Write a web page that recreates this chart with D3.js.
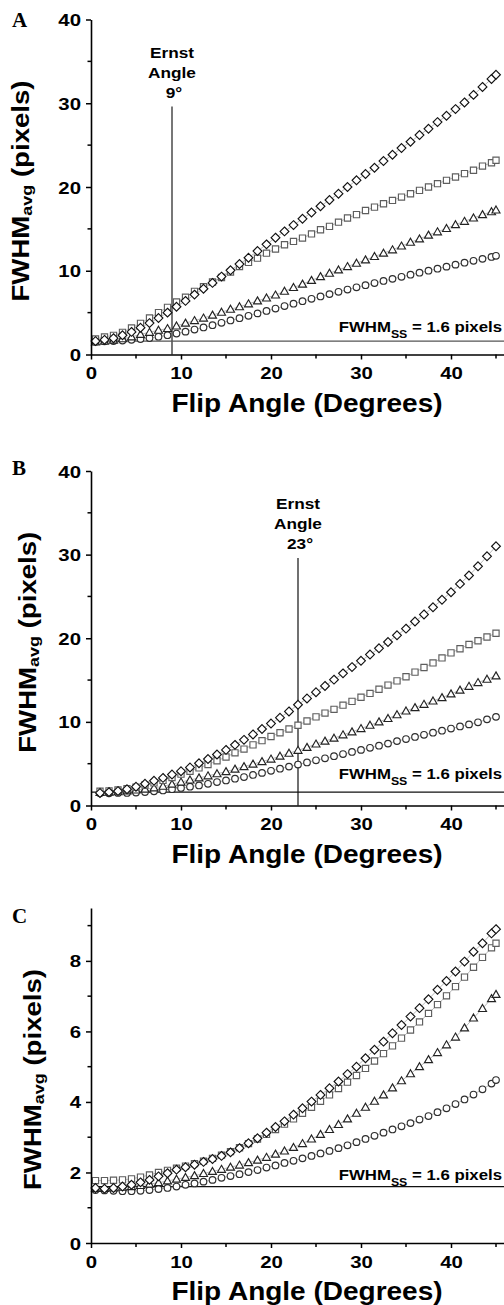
<!DOCTYPE html>
<html>
<head>
<meta charset="utf-8">
<script src="https://cdn.jsdelivr.net/npm/d3@7"></script>
<style>
  html, body { margin: 0; padding: 0; background: #fff; }
  svg { display: block; }
</style>
</head>
<body>
<svg id="fig" width="504" height="1305"></svg>
<script>
// Flip angles sampled in each panel (degrees)
const anglesHalf = [0.5, 1.5, 2.5, 3.5, 4.5, 5.5, 6.5, 7.5, 8.5, 9.5, 10.5, 11.5, 12.5, 13.5, 14.5,
  15.5, 16.5, 17.5, 18.5, 19.5, 20.5, 21.5, 22.5, 23.5, 24.5, 25.5, 26.5, 27.5, 28.5, 29.5,
  30.5, 31.5, 32.5, 33.5, 34.5, 35.5, 36.5, 37.5, 38.5, 39.5, 40.5, 41.5, 42.5, 43.5, 44.5, 45];
const anglesWhole = [1, 2, 3, 4, 5, 6, 7, 8, 9, 10, 11, 12, 13, 14, 15, 16, 17, 18, 19, 20,
  21, 22, 23, 24, 25, 26, 27, 28, 29, 30, 31, 32, 33, 34, 35, 36, 37, 38, 39, 40,
  41, 42, 43, 44, 45];

// Panel A: FWHM_avg (pixels)
const aDiamond = [1.6, 1.75, 1.95, 2.3, 2.7, 3.2, 3.75, 4.35, 5.0, 5.7, 6.4, 7.15, 7.85, 8.55, 9.3,
  10.05, 10.8, 11.55, 12.35, 13.15, 13.95, 14.7, 15.45, 16.2, 16.95, 17.7, 18.45, 19.2, 20.0, 20.8,
  21.55, 22.3, 23.1, 23.85, 24.65, 25.4, 26.2, 26.95, 27.75, 28.5, 29.3, 30.1, 31.0, 31.95, 32.9, 33.4];
const aSquare = [1.85, 2.09, 2.29, 2.65, 3.16, 3.72, 4.36, 5.0, 5.63, 6.27, 6.83, 7.54, 8.1, 8.66, 9.2,
  9.85, 10.5, 11.0, 11.5, 12.1, 12.6, 13.1, 13.5, 13.9, 14.4, 14.9, 15.3, 15.8, 16.3, 16.7,
  17.2, 17.6, 18.0, 18.4, 18.8, 19.2, 19.6, 20.0, 20.4, 20.8, 21.2, 21.6, 22.0, 22.5, 22.9, 23.2];
const aTriangle = [1.5, 1.6, 1.72, 1.88, 2.1, 2.4, 2.65, 2.9, 3.1, 3.4, 3.75, 4.05, 4.35, 4.7, 5.05,
  5.4, 5.7, 6.05, 6.4, 6.75, 7.1, 7.55, 8.0, 8.4, 8.85, 9.3, 9.7, 10.1, 10.5, 10.9,
  11.3, 11.7, 12.1, 12.5, 12.95, 13.4, 13.8, 14.25, 14.65, 15.05, 15.5, 15.9, 16.3, 16.7, 17.05, 17.25];
const aCircle = [1.53, 1.57, 1.61, 1.67, 1.75, 1.85, 1.97, 2.12, 2.3, 2.5, 2.73, 2.98, 3.23, 3.5, 3.78,
  4.06, 4.34, 4.62, 4.91, 5.2, 5.49, 5.78, 6.07, 6.36, 6.65, 6.93, 7.21, 7.49, 7.76, 8.02,
  8.28, 8.53, 8.78, 9.03, 9.28, 9.53, 9.77, 10.01, 10.25, 10.49, 10.73, 10.96, 11.19, 11.42, 11.65, 11.78];

// Panel B
const bDiamond = [1.5, 1.6, 1.72, 1.95, 2.25, 2.6, 2.95, 3.3, 3.7, 4.1, 4.55, 5.05, 5.55, 6.1, 6.65,
  7.25, 7.85, 8.5, 9.15, 9.8, 10.5, 11.25, 12.05, 12.8, 13.55, 14.3, 15.05, 15.8, 16.55, 17.3,
  18.05, 18.8, 19.55, 20.35, 21.15, 22.0, 22.85, 23.7, 24.6, 25.5, 26.5, 27.5, 28.6, 29.8, 31.0];
const bSquare = [1.7, 1.75, 1.85, 2.0, 2.2, 2.45, 2.7, 3.0, 3.35, 3.75, 4.1, 4.5, 4.9, 5.35, 5.8,
  6.3, 6.75, 7.25, 7.75, 8.25, 8.7, 9.15, 9.6, 10.1, 10.6, 11.05, 11.5, 12.0, 12.45, 12.95,
  13.4, 13.9, 14.4, 14.9, 15.4, 15.95, 16.5, 17.05, 17.65, 18.25, 18.75, 19.25, 19.7, 20.15, 20.6];
const bTriangle = [1.55, 1.6, 1.65, 1.75, 1.85, 1.95, 2.1, 2.3, 2.55, 2.8, 3.05, 3.3, 3.55, 3.8, 4.05,
  4.35, 4.65, 4.95, 5.25, 5.55, 5.9, 6.25, 6.6, 6.95, 7.35, 7.7, 8.05, 8.45, 8.8, 9.2,
  9.6, 10.0, 10.4, 10.85, 11.3, 11.7, 12.1, 12.5, 12.9, 13.35, 13.8, 14.25, 14.7, 15.1, 15.5];
const bCircle = [1.45, 1.45, 1.5, 1.5, 1.55, 1.6, 1.7, 1.8, 1.95, 2.1, 2.25, 2.4, 2.6, 2.8, 3.0,
  3.2, 3.4, 3.65, 3.9, 4.15, 4.4, 4.65, 4.9, 5.15, 5.4, 5.65, 5.9, 6.15, 6.4, 6.65,
  6.9, 7.15, 7.4, 7.7, 7.95, 8.2, 8.45, 8.7, 8.95, 9.2, 9.45, 9.7, 9.95, 10.3, 10.6];

// Panel C
const cDiamond = [1.56, 1.54, 1.56, 1.6, 1.65, 1.72, 1.79, 1.89, 1.98, 2.08, 2.15, 2.22, 2.3, 2.38, 2.47,
  2.57, 2.69, 2.83, 2.97, 3.13, 3.29, 3.45, 3.64, 3.82, 4.01, 4.2, 4.39, 4.58, 4.79, 5.0,
  5.24, 5.48, 5.71, 5.95, 6.18, 6.42, 6.66, 6.91, 7.18, 7.43, 7.7, 7.98, 8.26, 8.5, 8.78, 8.9];
const cSquare = [1.77, 1.77, 1.78, 1.79, 1.82, 1.87, 1.93, 2.0, 2.06, 2.12, 2.18, 2.25, 2.32, 2.4, 2.49,
  2.59, 2.7, 2.82, 2.95, 3.08, 3.22, 3.37, 3.52, 3.68, 3.85, 4.02, 4.2, 4.38, 4.56, 4.75,
  4.95, 5.16, 5.37, 5.59, 5.81, 6.04, 6.27, 6.51, 6.76, 7.01, 7.27, 7.54, 7.82, 8.1, 8.37, 8.5];
const cTriangle = [1.55, 1.55, 1.56, 1.58, 1.6, 1.63, 1.67, 1.71, 1.76, 1.81, 1.86, 1.91, 1.97, 2.03, 2.09,
  2.15, 2.21, 2.28, 2.35, 2.43, 2.52, 2.61, 2.71, 2.82, 2.95, 3.08, 3.22, 3.36, 3.52, 3.68,
  3.85, 4.02, 4.2, 4.4, 4.6, 4.8, 5.0, 5.2, 5.4, 5.62, 5.84, 6.1, 6.38, 6.65, 6.93, 7.05];
const cCircle = [1.5, 1.49, 1.48, 1.47, 1.47, 1.48, 1.5, 1.53, 1.56, 1.6, 1.65, 1.69, 1.74, 1.79, 1.85,
  1.9, 1.95, 2.01, 2.07, 2.14, 2.2, 2.27, 2.33, 2.4, 2.47, 2.54, 2.61, 2.69, 2.77, 2.86,
  2.95, 3.04, 3.13, 3.22, 3.31, 3.4, 3.5, 3.6, 3.71, 3.82, 3.94, 4.07, 4.21, 4.36, 4.52, 4.62];

// Axis ticks
const xTickLabels = [0, 10, 20, 30, 40];
const xTickMinor = [5, 15, 25, 35, 45];
const yTickLabelsWide = [0, 10, 20, 30, 40];
const yTickMinorWide = [5, 15, 25, 35];
const yTickLabelsNarrow = [0, 2, 4, 6, 8];
const yTickMinorNarrow = [1, 3, 5, 7, 9];

// Reference values
const ssWidth = 1.6;          // single-shot FWHM (pixels)
const ernstAngles = [9, 23];  // Ernst angles for panels A and B (degrees)
const ernstLineTop = 29.6;    // upper end of the Ernst angle marker (pixels)

const FONT = "'Liberation Sans', Arial, Helvetica, sans-serif";
const SERIF = "'Liberation Serif', 'Times New Roman', Times, serif";

const svg = d3.select("#fig");

// text with a slight horizontal widening of the glyphs
function wideText(parent, x, y, size, anchor, sx, str) {
  const t = parent.append("text")
    .attr("transform", `translate(${x},${y}) scale(${sx},1)`)
    .attr("font-family", FONT)
    .attr("font-weight", "bold")
    .attr("font-size", size)
    .attr("text-anchor", anchor)
    .attr("fill", "#000");
  if (str != null) t.text(str);
  return t;
}

const markerStyles = {
  diamond:  { path: "M0,-4.4L4.4,0L0,4.4L-4.4,0Z", stroke: "#111" },
  square:   { path: "M-3.1,-3.1H3.1V3.1H-3.1Z", stroke: "#5e5e5e" },
  triangle: { path: "M0,-4L4,3H-4Z", stroke: "#222" },
  circle:   { path: d3.symbol(d3.symbolCircle, Math.PI * 3.3 * 3.3)(), stroke: "#2e2e2e" }
};

const panels = [
  {
    letter: "A", letterY: 27, y0: 354.5, y1: 19.5, yMax: 40,
    yMajor: yTickLabelsWide, yMinor: yTickMinorWide, titleX: 29,
    angles: anglesHalf,
    series: [["circle", aCircle], ["triangle", aTriangle], ["square", aSquare], ["diamond", aDiamond]],
    ernst: ernstAngles[0], ernstColor: "#555", ernstWidth: 1.6,
    ssColor: "#555", ssLabelOffset: 9
  },
  {
    letter: "B", letterY: 475, y0: 805.5, y1: 471, yMax: 40,
    yMajor: yTickLabelsWide, yMinor: yTickMinorWide, titleX: 36,
    angles: anglesWhole,
    series: [["circle", bCircle], ["triangle", bTriangle], ["square", bSquare], ["diamond", bDiamond]],
    ernst: ernstAngles[1], ernstColor: "#111", ernstWidth: 1.2,
    ssColor: "#111", ssLabelOffset: 13
  },
  {
    letter: "C", letterY: 923, y0: 1243, y1: 908, yMax: 9.5,
    yMajor: yTickLabelsNarrow, yMinor: yTickMinorNarrow, titleX: 41,
    angles: anglesHalf,
    series: [["circle", cCircle], ["triangle", cTriangle], ["square", cSquare], ["diamond", cDiamond]],
    ernst: null,
    ssColor: "#111", ssLabelOffset: 7
  }
];

panels.forEach(p => {
  const x = d3.scaleLinear().domain([0, 46]).range([91, 505]);
  const y = d3.scaleLinear().domain([0, p.yMax]).range([p.y0, p.y1]);
  const g = svg.append("g");

  // panel letter
  g.append("text")
    .attr("x", 12).attr("y", p.letterY)
    .attr("font-family", SERIF).attr("font-weight", "bold")
    .attr("font-size", 21).text(p.letter);

  // single-shot FWHM reference line
  g.append("line")
    .attr("x1", x(0)).attr("x2", 504)
    .attr("y1", y(ssWidth)).attr("y2", y(ssWidth))
    .attr("stroke", p.ssColor).attr("stroke-width", 1.3);

  const ss = wideText(g, 502, y(ssWidth) - p.ssLabelOffset, 15, "end", 1.12);
  ss.append("tspan").text("FWHM");
  ss.append("tspan").text("SS").attr("font-size", 11).attr("dy", 6);
  ss.append("tspan").text(` = ${ssWidth} pixels`).attr("dy", -6);

  // Ernst angle marker
  if (p.ernst != null) {
    const ex = x(p.ernst);
    const top = y(ernstLineTop);
    g.append("line")
      .attr("x1", ex).attr("x2", ex).attr("y1", y(0)).attr("y2", top)
      .attr("stroke", p.ernstColor).attr("stroke-width", p.ernstWidth);
    wideText(g, ex, top - 49, 15, "middle", 1.15, "Ernst");
    wideText(g, ex, top - 29, 15, "middle", 1.15, "Angle");
    wideText(g, ex + 2, top - 9, 15, "middle", 1.15, `${p.ernst}°`);
  }

  // data series: thin connecting line under white-filled markers
  p.series.forEach(([kind, values]) => {
    const pts = p.angles.map((a, i) => [a, values[i]]);
    const st = markerStyles[kind];
    g.append("path")
      .datum(pts)
      .attr("fill", "none")
      .attr("stroke", "#8a8a8a")
      .attr("stroke-width", 0.6)
      .attr("d", d3.line().x(d => x(d[0])).y(d => y(d[1])));
    g.append("g").selectAll("path")
      .data(pts)
      .join("path")
      .attr("transform", d => `translate(${x(d[0])},${y(d[1])})`)
      .attr("d", st.path)
      .attr("fill", "#fff")
      .attr("stroke", st.stroke)
      .attr("stroke-width", 1.15);
  });

  // y axis
  const ya = g.append("g")
    .attr("transform", `translate(${x(0)},0)`)
    .call(d3.axisLeft(y).tickValues(p.yMajor).tickSize(5).tickSizeOuter(0).tickFormat(d3.format("d")));
  ya.select(".domain").attr("stroke", "#000").attr("stroke-width", 1.6);
  ya.selectAll(".tick line").attr("stroke", "#000").attr("stroke-width", 1.5);
  ya.selectAll(".tick text")
    .attr("x", null).attr("dy", null)
    .attr("transform", `translate(-10,6) scale(1.2,1)`)
    .attr("font-family", FONT).attr("font-weight", "bold").attr("font-size", 17)
    .attr("fill", "#000").attr("text-anchor", "end");
  ya.selectAll(".minor").data(p.yMinor).join("line")
    .attr("class", "minor")
    .attr("x1", -3.5).attr("x2", 0)
    .attr("y1", d => y(d)).attr("y2", d => y(d))
    .attr("stroke", "#000").attr("stroke-width", 1.5);

  // x axis
  const xa = g.append("g")
    .attr("transform", `translate(0,${y(0)})`)
    .call(d3.axisBottom(x).tickValues(xTickLabels).tickSize(5).tickSizeOuter(0).tickFormat(d3.format("d")));
  xa.select(".domain").attr("stroke", "#000").attr("stroke-width", 1.6);
  xa.selectAll(".tick line").attr("stroke", "#000").attr("stroke-width", 1.5);
  xa.selectAll(".tick text")
    .attr("y", null).attr("dy", null)
    .attr("transform", `translate(0,24.5) scale(1.2,1)`)
    .attr("font-family", FONT).attr("font-weight", "bold").attr("font-size", 17)
    .attr("fill", "#000").attr("text-anchor", "middle");
  xa.selectAll(".minor").data(xTickMinor).join("line")
    .attr("class", "minor")
    .attr("x1", d => x(d)).attr("x2", d => x(d))
    .attr("y1", 0).attr("y2", 4)
    .attr("stroke", "#000").attr("stroke-width", 1.5);

  // axis titles
  wideText(g, 307, y(0) + 57, 25, "middle", 1.12, "Flip Angle (Degrees)");

  const yt = g.append("text")
    .attr("transform", `translate(${p.titleX},${(p.y0 + p.y1) / 2 + 4}) rotate(-90) scale(1.2,1)`)
    .attr("font-family", FONT).attr("font-weight", "bold").attr("font-size", 23)
    .attr("text-anchor", "middle").attr("fill", "#000");
  yt.append("tspan").text("FWHM");
  yt.append("tspan").text("avg").attr("font-size", 15).attr("dy", 3);
  yt.append("tspan").text(" (pixels)").attr("dy", -3);
});
</script>
</body>
</html>
